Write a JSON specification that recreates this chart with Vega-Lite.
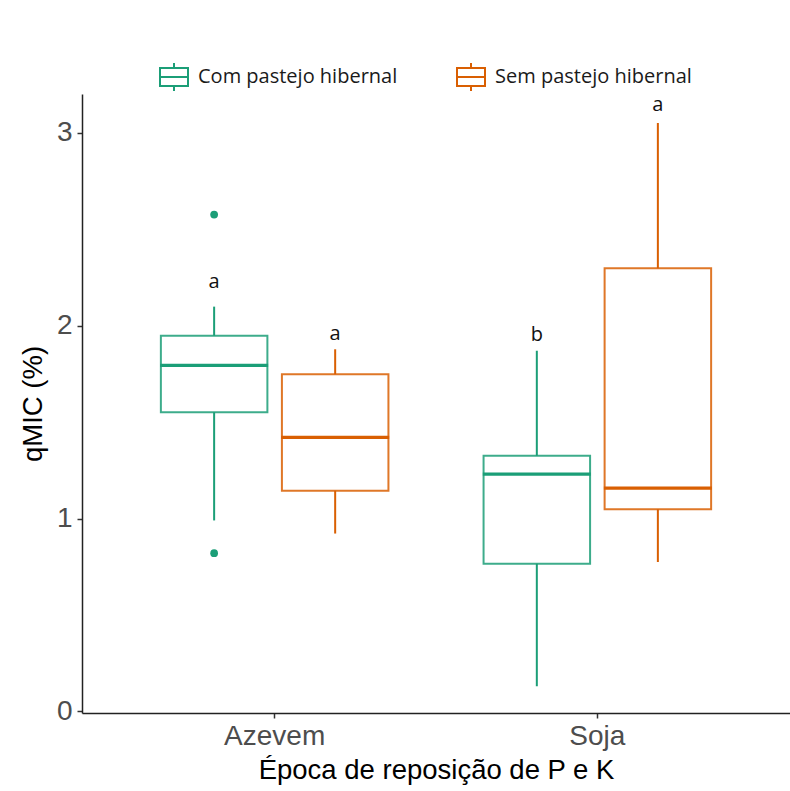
{
  "$schema": "https://vega.github.io/schema/vega-lite/v6.json",
  "width": 708,
  "height": 619,
  "autosize": {"type": "none"},
  "padding": {"left": 82, "top": 94, "right": 0, "bottom": 78},
  "background": "white",
  "config": {
    "font": "Liberation Sans",
    "view": {"stroke": null},
    "axis": {"grid": false, "domainColor": "#222222", "domainWidth": 1.5, "tickColor": "#333333", "tickWidth": 1.5, "tickSize": 5, "labelColor": "#4D4D4D", "labelFontSize": 28, "titleFontSize": 27.5, "titleColor": "#000000", "titleFontWeight": "normal", "labelFont": "Liberation Sans", "titleFont": "Liberation Sans"}
  },
  "datasets": {
    "caixas": [
      {"epoca": "Azevem", "grupo": "Com pastejo hibernal", "min": 0.99, "q1": 1.551, "mediana": 1.794, "q3": 1.947, "max": 2.098, "letra": "a", "letraY": 2.192},
      {"epoca": "Azevem", "grupo": "Sem pastejo hibernal", "min": 0.922, "q1": 1.144, "mediana": 1.42, "q3": 1.748, "max": 1.877, "letra": "a", "letraY": 1.927},
      {"epoca": "Soja", "grupo": "Com pastejo hibernal", "min": 0.13, "q1": 0.765, "mediana": 1.23, "q3": 1.325, "max": 1.87, "letra": "b", "letraY": 1.922},
      {"epoca": "Soja", "grupo": "Sem pastejo hibernal", "min": 0.774, "q1": 1.048, "mediana": 1.157, "q3": 2.297, "max": 3.05, "letra": "a", "letraY": 3.11}
    ],
    "outliers": [
      {"epoca": "Azevem", "grupo": "Com pastejo hibernal", "valor": 2.575},
      {"epoca": "Azevem", "grupo": "Com pastejo hibernal", "valor": 0.82}
    ]
  },
  "encoding": {
    "x": {
      "field": "epoca", "type": "nominal", "sort": ["Azevem", "Soja"],
      "scale": {"paddingInner": 0, "paddingOuter": 0.097},
      "title": "Época de reposição de P e K",
      "axis": {"labelAngle": 0, "labelPadding": 4, "titlePadding": 6}
    },
    "xOffset": {
      "field": "grupo", "type": "nominal", "sort": ["Com pastejo hibernal", "Sem pastejo hibernal"],
      "scale": {"paddingInner": 0.12, "paddingOuter": 0.393}
    }
  },
  "resolve": {"legend": {"stroke": "independent", "color": "independent"}},
  "layer": [
    {
      "data": {"name": "caixas"},
      "mark": {"type": "rule", "strokeWidth": 2},
      "encoding": {
        "y": {"field": "min", "type": "quantitative", "scale": {"domain": [-0.008, 3.2], "nice": false, "zero": false}, "title": "qMIC (%)", "axis": {"values": [0, 1, 2, 3], "format": "d", "labelPadding": 5, "titlePadding": 9}},
        "y2": {"field": "max"},
        "stroke": {
          "field": "grupo", "type": "nominal",
          "scale": {"domain": ["Com pastejo hibernal", "Sem pastejo hibernal"], "range": ["#1B9E77", "#D95F02"]},
          "legend": {
            "orient": "none", "legendX": 77, "legendY": -32, "direction": "horizontal", "title": null, "padding": 0,
            "symbolType": "M-1,-0.64H1V0.64H-1Z M-1,0H1 M0,-0.64V-1 M0,0.64V1",
            "symbolSize": 784, "symbolStrokeWidth": 2, "symbolFillColor": "transparent",
            "labelFont": "Open Sans", "labelFontSize": 20, "labelColor": "#1a1a1a", "labelOffset": 9, "columnPadding": 55, "labelLimit": 400
          }
        }
      }
    },
    {
      "data": {"name": "caixas"},
      "mark": {"type": "bar", "fill": "white", "strokeWidth": 2, "strokeOpacity": 0.85},
      "encoding": {
        "y": {"field": "q1", "type": "quantitative"},
        "y2": {"field": "q3"},
        "stroke": {"field": "grupo", "type": "nominal", "legend": null}
      }
    },
    {
      "data": {"name": "caixas"},
      "mark": {"type": "tick", "size": 108, "thickness": 3.2, "opacity": 1},
      "encoding": {
        "y": {"field": "mediana", "type": "quantitative"},
        "color": {"field": "grupo", "type": "nominal", "scale": {"domain": ["Com pastejo hibernal", "Sem pastejo hibernal"], "range": ["#1B9E77", "#D95F02"]}, "legend": null}
      }
    },
    {
      "data": {"name": "outliers"},
      "mark": {"type": "circle", "size": 60, "opacity": 1},
      "encoding": {
        "y": {"field": "valor", "type": "quantitative"},
        "color": {"field": "grupo", "type": "nominal", "legend": null}
      }
    },
    {
      "data": {"name": "caixas"},
      "mark": {"type": "text", "font": "Open Sans", "fontSize": 20, "fontWeight": "normal", "color": "#111111", "baseline": "alphabetic", "align": "center"},
      "encoding": {
        "y": {"field": "letraY", "type": "quantitative"},
        "text": {"field": "letra", "type": "nominal"}
      }
    }
  ]
}
